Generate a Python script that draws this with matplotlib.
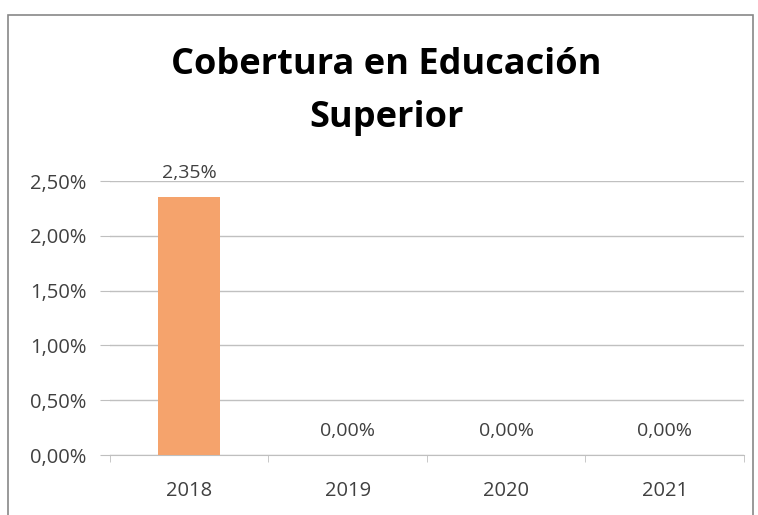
import matplotlib.pyplot as plt
from matplotlib.patches import Rectangle

years = ['2018', '2019', '2020', '2021']
cobertura = [2.35, 0.0, 0.0, 0.0]
yticks = [0.0, 0.5, 1.0, 1.5, 2.0, 2.5]

plt.rcParams['font.family'] = ['Open Sans', 'DejaVu Sans']

fig = plt.figure(figsize=(7.58, 5.15), dpi=100)
ax = fig.add_axes([0.145, 0.1165, 0.8365, 0.532])

x = list(range(len(years)))
ax.bar(x, cobertura, width=0.39, color='#F5A36C', zorder=3)

for xi, v in zip(x, cobertura):
    ax.text(xi, v + 0.14, f"{v:.2f}%".replace('.', ','), ha='center', va='bottom',
            fontsize=14, color='#404040')

ax.set_xlim(-0.5, 3.5)
ax.set_ylim(0, 2.5)
ax.set_yticks(yticks)
ax.set_yticklabels([f"{t:.2f}%".replace('.', ',') for t in yticks], fontsize=14.5, color='#404040')
ax.set_xticks(x)
ax.set_xticklabels(years, fontsize=14.5, color='#404040')
ax.set_xticks([-0.5, 0.5, 1.5, 2.5, 3.5], minor=True)
ax.tick_params(axis='x', which='major', length=0, pad=19)
ax.tick_params(axis='x', which='minor', length=5, color='#BFBFBF')
ax.tick_params(axis='y', length=7, color='#BFBFBF', pad=10)

ax.grid(axis='y', color='#C0C0C0', linewidth=1, zorder=0)
for s in ['top', 'right', 'left']:
    ax.spines[s].set_visible(False)
ax.spines['bottom'].set_color('#BFBFBF')

fig.text(0.51, 0.874, "Cobertura en Educación", ha='center', va='center',
         fontsize=26, fontweight='bold', color='black')
fig.text(0.51, 0.771, "Superior", ha='center', va='center',
         fontsize=26, fontweight='bold', color='black')

fig.patches.append(Rectangle((0.011, -0.02), 0.982, 0.99, transform=fig.transFigure,
                             fill=False, edgecolor='#888888', linewidth=1.2))

fig.savefig('out.png', dpi=100)
